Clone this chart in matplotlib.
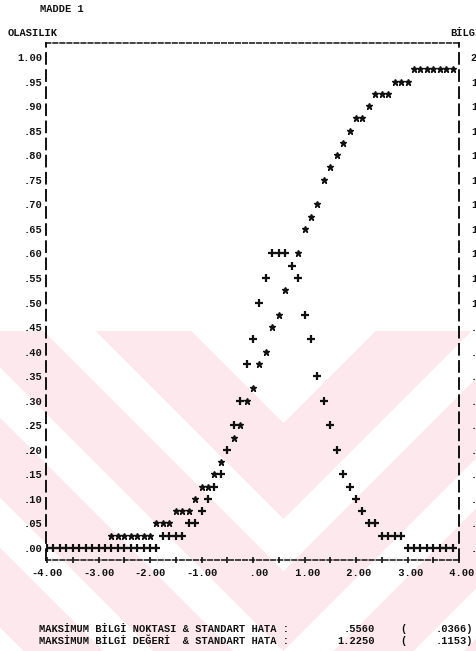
import numpy as np
import matplotlib.pyplot as plt

# olasilik egrisi (*) : teta, P
olas_x = [-2.75, -2.625, -2.5, -2.375, -2.25, -2.125, -2.0,
          -1.875, -1.75, -1.625,
          -1.5, -1.375, -1.25,
          -1.125, -1.0, -0.875, -0.75, -0.625, -0.375, -0.25, -0.125,
          0.0, 0.125, 0.25, 0.375, 0.5, 0.625, 0.875,
          1.0, 1.125, 1.25, 1.375, 1.5, 1.625, 1.75, 1.875,
          2.0, 2.125, 2.25, 2.375, 2.5, 2.625, 2.75, 2.875, 3.0,
          3.125, 3.25, 3.375, 3.5, 3.625, 3.75, 3.875]
olas_p = [.025, .025, .025, .025, .025, .025, .025,
          .05, .05, .05,
          .075, .075, .075,
          .10, .125, .125, .15, .175, .225, .25, .30,
          .325, .375, .40, .45, .475, .525, .60,
          .65, .675, .70, .75, .775, .80, .825, .85,
          .875, .875, .90, .925, .925, .925, .95, .95, .95,
          .975, .975, .975, .975, .975, .975, .975]

# bilgi fonksiyonu (+) : teta, I
bilgi_x = [-4.0, -3.875, -3.75, -3.625, -3.5, -3.375, -3.25, -3.125, -3.0,
           -2.875, -2.75, -2.625, -2.5, -2.375, -2.25, -2.125, -2.0, -1.875,
           -1.75, -1.625, -1.5, -1.375, -1.25, -1.125,
           -1.0, -0.875, -0.75, -0.625, -0.5, -0.375, -0.25, -0.125,
           0.0, 0.125, 0.25, 0.375, 0.5, 0.625, 0.75, 0.875,
           1.0, 1.125, 1.25, 1.375, 1.5, 1.625, 1.75, 1.875,
           2.0, 2.125, 2.25, 2.375, 2.5, 2.625, 2.75, 2.875,
           3.0, 3.125, 3.25, 3.375, 3.5, 3.625, 3.75, 3.875]
bilgi_i = [0, 0, 0, 0, 0, 0, 0, 0, 0,
           0, 0, 0, 0, 0, 0, 0, 0, 0,
           .05, .05, .05, .05, .10, .10,
           .15, .20, .25, .30, .40, .50, .60, .75,
           .85, 1.00, 1.10, 1.20, 1.20, 1.20, 1.15, 1.10,
           .95, .85, .70, .60, .50, .40, .30, .25,
           .20, .15, .10, .10, .05, .05, .05, .05,
           0, 0, 0, 0, 0, 0, 0, 0]

x_etiket = ["-4.00", "-3.00", "-2.00", "-1.00", "  .00", " 1.00", " 2.00", " 3.00", " 4.00"]
ust_satir = ["MAKSİMUM BİLGİ NOKTASI & STANDART HATA :", ".5560", ".0366)"]
alt_satir = ["MAKSİMUM BİLGİ DEĞERİ  & STANDART HATA :", "1.2250", ".1153)"]

mono = "Liberation Mono"
fs = 7.5
ink = "#111111"

fig = plt.figure(figsize=(4.76, 6.51), dpi=100)

# soluk pembe filigran (taranmis sayfadaki)
bg = fig.add_axes([0, 0, 1, 1])
yy, xx = np.mgrid[0:651, 0:476]
d = (yy - 331) + np.abs(xx - 283)
pembe = (yy >= 331) & (((d >= 92) & (d < 188)) | ((d >= 240) & (d < 320)) |
                       ((d >= 370) & (d < 450)) | ((d >= 500) & (d < 580)) |
                       ((d >= 630) & (d < 710)))
img = np.ones((651, 476, 3))
img[pembe] = [253/255, 233/255, 237/255]
bg.imshow(img, extent=[0, 476, 651, 0], aspect="auto")
bg.axis("off")

ax = fig.add_axes([46/476, 1-560/651, 413/476, 517/651])
ax.set_facecolor("none")
ax.set_xlim(-4.02, 4.0)
ax.set_ylim(-0.0244, 1.0285)

ax.plot(olas_x, olas_p, ls="none", marker="*", ms=4.8, color=ink, mew=1.0)
ax.plot(bilgi_x, [v/2 for v in bilgi_i], ls="none", marker="+", ms=5.2, mew=1.6, color=ink)

for s in ["left", "right"]:
    ax.spines[s].set_linestyle((0, (5.5, 3.3)))
    ax.spines[s].set_linewidth(1.4)
for s in ["top", "bottom"]:
    ax.spines[s].set_linestyle((0, (3.0, 1.6)))
    ax.spines[s].set_linewidth(1.1)
for s in ax.spines.values():
    s.set_color(ink)

ax.set_xticks(np.arange(-4, 5, 1))
ax.set_xticks(np.arange(-3.5, 4, 1), minor=True)
ax.set_xticklabels(x_etiket)
ax.tick_params(axis="x", which="both", direction="inout", length=5, width=1.2,
               color=ink, pad=3.5)

yt = np.round(np.arange(0, 1.0001, 0.05), 2)
ax.set_yticks(yt)
ax.set_yticklabels([("%.2f" % v).lstrip("0") if v < 1 else "1.00" for v in yt])
ax.tick_params(axis="y", length=0, pad=2.5)

ax2 = ax.twinx()
ax2.set_ylim(-0.0488, 2.057)
yt2 = np.round(np.arange(0, 2.0001, 0.1), 2)
ax2.set_yticks(yt2)
ax2.set_yticklabels([("%.2f" % v).lstrip("0") if v < 1 else "%.2f" % v for v in yt2])
ax2.tick_params(axis="y", length=0, pad=8.5)
for s in ax2.spines.values():
    s.set_visible(False)

for a in (ax, ax2):
    for lab in a.get_xticklabels() + a.get_yticklabels():
        lab.set_fontfamily(mono)
        lab.set_fontweight("bold")
        lab.set_fontsize(fs)
        lab.set_color(ink)

def yaz(px, py, s, ha="left"):
    fig.text(px/476, 1-py/651, s, family=mono, weight="bold", size=fs,
             color=ink, ha=ha, va="center")

yaz(40, 9, "MADDE 1")
yaz(8, 33, "OLASILIK")
yaz(450, 33, "BİLGİ")

yaz(39, 629, ust_satir[0])
yaz(375, 629, ust_satir[1], ha="right")
yaz(400, 629, "(")
yaz(473, 629, ust_satir[2], ha="right")
yaz(39, 641, alt_satir[0])
yaz(375, 641, alt_satir[1], ha="right")
yaz(400, 641, "(")
yaz(473, 641, alt_satir[2], ha="right")

fig.savefig("out.png", dpi=100)
